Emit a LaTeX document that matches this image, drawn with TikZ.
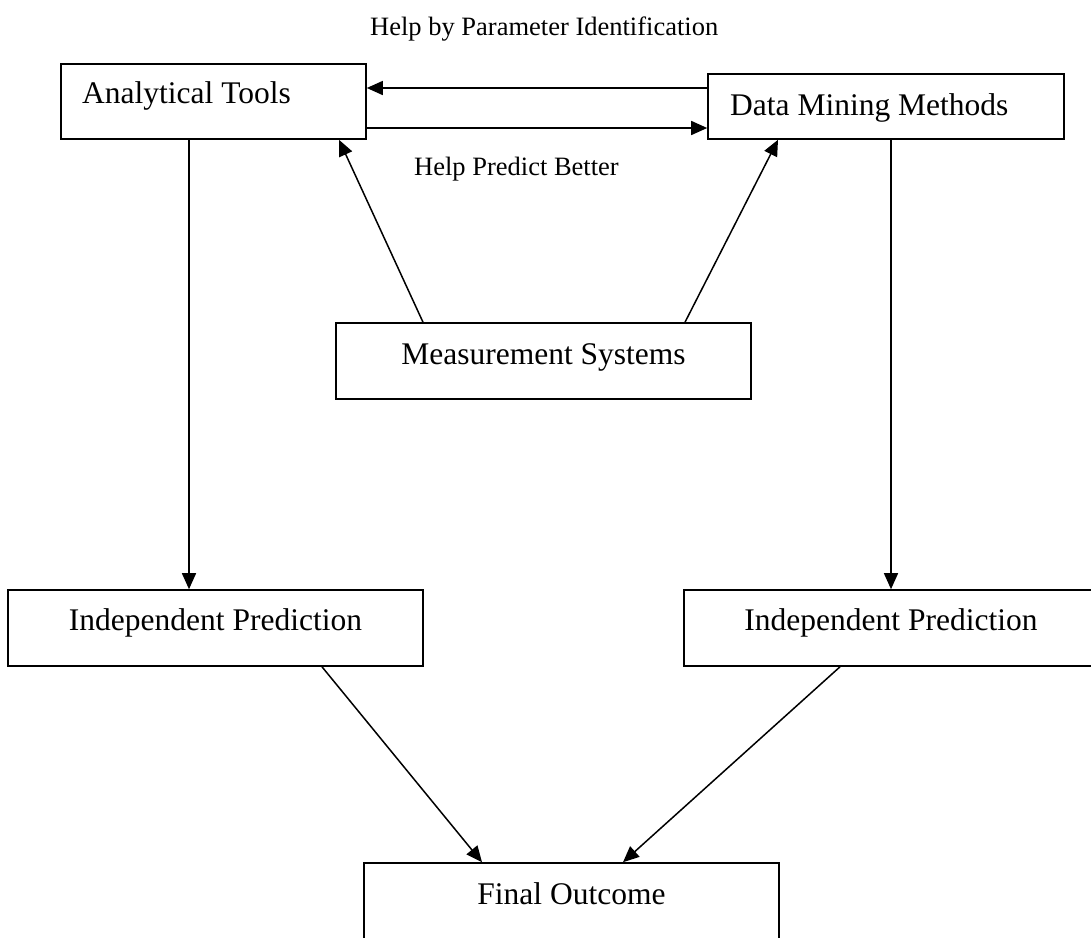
\documentclass[tikz,border=0pt]{standalone}
\usepackage{fontspec}
\setmainfont{Liberation Serif}
\usetikzlibrary{arrows.meta}
\begin{document}
\begin{tikzpicture}[x=1pt,y=-1pt,
  box/.style={draw, line width=1.6pt, inner sep=0pt},
  lbl/.style={font=\fontsize{31.5}{36}\selectfont, inner sep=0pt, anchor=base},
  note/.style={font=\fontsize{26.5}{30}\selectfont, inner sep=0pt, anchor=base west},
  conn/.style={line width=1.5pt, -{Triangle[length=16pt,width=14pt]}}]
\useasboundingbox (0,0) rectangle (1091,937);
\clip (0,0) rectangle (1091,937);

% boxes
\node[box, minimum width=305pt, minimum height=75pt] (at) at (213.5,101.5) {};
\node[box, minimum width=356pt, minimum height=65pt] (dm) at (886,106.5) {};
\node[box, minimum width=415pt, minimum height=76pt] (ms) at (543.5,361) {};
\node[box, minimum width=415pt, minimum height=76pt] (ipl) at (215.5,628) {};
\node[box, minimum width=414pt, minimum height=76pt] (ipr) at (891,628) {};
\node[box, minimum width=415pt, minimum height=140pt] (fo) at (571.5,933) {};

% texts
\node[lbl, anchor=base west] (att) at (82,103) {Analytical Tools};
\node[lbl, anchor=base west] (dmt) at (730,115) {Data Mining Methods};
\node[lbl] (mst) at (543.5,364) {Measurement Systems};
\node[lbl] (iplt) at (215.5,630) {Independent Prediction};
\node[lbl] (iprt) at (891,630) {Independent Prediction};
\node[lbl] (fot) at (571.5,904) {Final Outcome};
\node[note] (n1) at (370,35) {Help by Parameter Identification};
\node[note] (n2) at (414,175) {Help Predict Better};

% connectors
\draw[conn] ([yshift=18.5pt]dm.west) -- ([yshift=13.5pt]at.east);
\draw[conn] ([yshift=-26.5pt]at.east) -- ([yshift=-21.5pt]dm.west);
\draw[conn] ([xshift=-120.5pt]ms.north) -- ([xshift=125.5pt]at.south);
\draw[conn] ([xshift=141.5pt]ms.north) -- ([xshift=-108pt]dm.south);
\draw[conn] ([xshift=-24.5pt]at.south) -- ([xshift=-26.5pt]ipl.north);
\draw[conn] ([xshift=5pt]dm.south) -- (ipr.north);
\draw[conn] ([xshift=106.5pt]ipl.south) -- ([xshift=-89.5pt]fo.north);
\draw[conn] ([xshift=-51pt]ipr.south) -- ([xshift=51.5pt]fo.north);
\end{tikzpicture}
\end{document}
